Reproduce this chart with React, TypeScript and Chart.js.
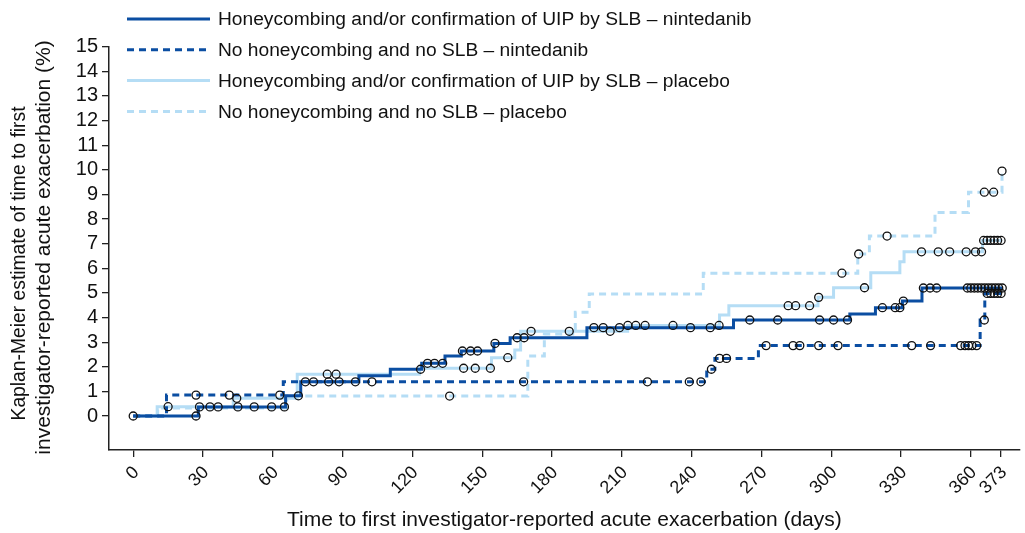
import React, { useEffect, useRef } from 'react';
import { Chart, registerables } from 'chart.js';

Chart.register(...registerables);

const DARK = '#0b4ea2';
const LIGHT = '#b5ddf5';
const FONT = '"Liberation Sans", Arial, Helvetica, sans-serif';

const xTickValues = [0, 30, 60, 90, 120, 150, 180, 210, 240, 270, 300, 330, 360, 373];
const yTickValues = [0, 1, 2, 3, 4, 5, 6, 7, 8, 9, 10, 11, 12, 13, 14, 15];

const xTitle = 'Time to first investigator-reported acute exacerbation (days)';
const yTitleLines = ['Kaplan-Meier estimate of time to first', 'investigator-reported acute exacerbation (%)'];

const seriesLabels = [
  'Honeycombing and/or confirmation of UIP by SLB – nintedanib',
  'No honeycombing and no SLB – nintedanib',
  'Honeycombing and/or confirmation of UIP by SLB – placebo',
  'No honeycombing and no SLB – placebo',
];

// Honeycombing and/or UIP by SLB – nintedanib
const hcNinTimes = [0, 28, 65.5, 72, 97, 110.5, 124, 134, 141, 155, 162, 195, 258, 308, 319, 330.6, 339, 373.5];
const hcNinValues = [0, 0.37, 0.82, 1.39, 1.64, 1.9, 2.14, 2.44, 2.64, 2.95, 3.18, 3.59, 3.9, 4.14, 4.4, 4.67, 5.2, 5.2];
const hcNinCensored = [0, 27, 28.5, 33, 36.5, 45, 52, 59.5, 65, 71, 74, 77.5, 84, 88.5, 95.5, 123.5, 126.5, 129.5, 133, 141.5, 145, 148, 155.5, 165, 168, 198, 202, 209, 239.5, 248, 265, 277, 295, 301, 307, 322, 327.5, 329.5, 331, 339.6, 342.5, 345.3, 358.5, 360, 361.5, 363, 364.5, 366, 367.5, 369, 370.5, 372, 373.5];

// No honeycombing and no SLB – nintedanib
const noHcNinTimes = [0, 14.3, 64.5, 246.5, 250, 268.7, 364, 366, 373.5];
const noHcNinValues = [0, 0.85, 1.39, 1.9, 2.34, 2.86, 3.9, 4.98, 4.98];
const noHcNinCensored = [27, 41.3, 63, 102.6, 167.8, 221, 239, 244, 248.5, 252, 255, 272, 283.6, 286.5, 294.6, 302.9, 334.6, 342.7, 355.6, 357.5, 359, 360.5, 362.5, 365.8, 367, 368.5, 370, 371.5, 373];

// Honeycombing and/or UIP by SLB – placebo
const hcPlaTimes = [0, 10.3, 43, 70.5, 123, 154, 164, 166.5, 212.5, 252, 256, 294.3, 301, 317, 329.5, 331.3, 365, 373.5];
const hcPlaValues = [0, 0.38, 0.72, 1.7, 1.94, 2.37, 2.68, 3.44, 3.68, 4.1, 4.48, 4.82, 5.21, 5.82, 6.27, 6.67, 7.13, 7.13];
const hcPlaCensored = [15, 44.5, 83.4, 87.2, 142, 147, 153.5, 161, 171, 187.4, 205, 212.6, 216, 220, 232, 251.8, 281.5, 284.7, 290.7, 294.6, 314.3, 338.8, 346, 350.9, 358, 362, 364.6, 365.5, 367, 368.5, 370, 371.5, 373];

// No honeycombing and no SLB – placebo
const noHcPlaTimes = [0, 10.5, 66, 169.6, 176.7, 190, 196, 245, 311.4, 316.4, 344.6, 359, 373.4];
const noHcPlaValues = [0, 0.33, 0.81, 2.44, 3.33, 4.21, 4.96, 5.8, 6.58, 7.31, 8.27, 9.09, 9.95];
const noHcPlaCensored = [136, 304.6, 311.8, 324, 365.8, 369.8, 373.4];

const seriesColors = [DARK, DARK, LIGHT, LIGHT];
const seriesDashes: number[][] = [[], [7, 5], [], [7, 5]];

function toPoints(times: number[], values: number[]) {
  return times.map((t, i) => ({ x: t, y: values[i] }));
}

function valueAt(times: number[], values: number[], t: number) {
  let v = values[0];
  for (let i = 0; i < times.length; i++) {
    if (times[i] <= t) v = values[i];
  }
  return v;
}

function censorPoints(times: number[], values: number[], cens: number[]) {
  return cens.map((t) => ({ x: t, y: valueAt(times, values, t) }));
}

const legendPlugin = {
  id: 'kmLegend',
  afterDraw(chart: any) {
    const ctx = chart.ctx;
    ctx.save();
    seriesLabels.forEach((label, i) => {
      const y = 19 + i * 30.8;
      ctx.strokeStyle = seriesColors[i];
      ctx.lineWidth = 3;
      ctx.setLineDash(seriesDashes[i]);
      ctx.beginPath();
      ctx.moveTo(127, y);
      ctx.lineTo(210, y);
      ctx.stroke();
      ctx.setLineDash([]);
      ctx.fillStyle = '#111';
      ctx.font = `19.2px ${FONT}`;
      ctx.textBaseline = 'middle';
      ctx.textAlign = 'left';
      ctx.fillText(label, 218, y + 1);
    });
    ctx.restore();
  },
};

const yTitlePlugin = {
  id: 'yTitle',
  afterDraw(chart: any) {
    const ctx = chart.ctx;
    const spec = [
      { x: 20, y: 263.5, size: 19.3 },
      { x: 44, y: 247.5, size: 21 },
    ];
    yTitleLines.forEach((line, i) => {
      ctx.save();
      ctx.translate(spec[i].x, spec[i].y);
      ctx.rotate(-Math.PI / 2);
      ctx.fillStyle = '#111';
      ctx.font = `${spec[i].size}px ${FONT}`;
      ctx.textAlign = 'center';
      ctx.textBaseline = 'middle';
      ctx.fillText(line, 0, 0);
      ctx.restore();
    });
  },
};

export default function App() {
  const canvasRef = useRef<HTMLCanvasElement | null>(null);

  useEffect(() => {
    if (!canvasRef.current) return;
    const censorStyle = {
      type: 'scatter' as const,
      showLine: false,
      pointStyle: 'circle',
      pointRadius: 4,
      pointBorderWidth: 1.3,
      pointBorderColor: '#111',
      pointBackgroundColor: 'rgba(255,255,255,0)',
      order: 0,
    };
    const lineStyle = (i: number) => ({
      type: 'line' as const,
      stepped: 'before' as const,
      borderColor: seriesColors[i],
      borderWidth: 3,
      borderDash: seriesDashes[i],
      pointRadius: 0,
      fill: false,
      order: i + 1,
      label: seriesLabels[i],
    });

    const chart = new Chart(canvasRef.current, {
      type: 'line',
      data: {
        datasets: [
          { ...censorStyle, data: censorPoints(hcNinTimes, hcNinValues, hcNinCensored) },
          { ...censorStyle, data: censorPoints(noHcNinTimes, noHcNinValues, noHcNinCensored) },
          { ...censorStyle, data: censorPoints(hcPlaTimes, hcPlaValues, hcPlaCensored) },
          { ...censorStyle, data: censorPoints(noHcPlaTimes, noHcPlaValues, noHcPlaCensored) },
          { ...lineStyle(0), data: toPoints(hcNinTimes, hcNinValues) },
          { ...lineStyle(1), data: toPoints(noHcNinTimes, noHcNinValues) },
          { ...lineStyle(2), data: toPoints(hcPlaTimes, hcPlaValues) },
          { ...lineStyle(3), data: toPoints(noHcPlaTimes, noHcPlaValues) },
        ] as any,
      },
      options: {
        animation: false,
        responsive: true,
        maintainAspectRatio: false,
        layout: { padding: { top: 46.7, right: 1, left: 0, bottom: 0 } },
        plugins: { legend: { display: false }, tooltip: { enabled: false } },
        scales: {
          x: {
            type: 'linear',
            min: -10.4,
            max: 381,
            afterBuildTicks: (scale: any) => {
              scale.ticks = xTickValues.map((v) => ({ value: v }));
            },
            afterFit: (scale: any) => {
              scale.height = 83;
            },
            ticks: {
              autoSkip: false,
              minRotation: 45,
              maxRotation: 45,
              padding: 5,
              labelOffset: 3,
              color: '#111',
              font: { family: FONT, size: 18 },
              callback: (v: any) => String(v),
            },
            grid: {
              drawOnChartArea: false,
              drawTicks: true,
              tickLength: 7,
              color: '#222',
              lineWidth: 1.3,
            },
            border: { display: true, color: '#222', width: 1.5 },
            title: {
              display: true,
              text: xTitle,
              color: '#111',
              font: { family: FONT, size: 21 },
              padding: { top: 0, bottom: 0 },
            },
          },
          y: {
            type: 'linear',
            min: -1.38,
            max: 15,
            afterBuildTicks: (scale: any) => {
              scale.ticks = yTickValues.map((v) => ({ value: v }));
            },
            afterFit: (scale: any) => {
              scale.width = 109;
            },
            ticks: {
              autoSkip: false,
              padding: 4,
              color: '#111',
              font: { family: FONT, size: 20 },
              callback: (v: any) => String(v),
            },
            grid: {
              drawOnChartArea: false,
              drawTicks: true,
              tickLength: 7,
              color: '#222',
              lineWidth: 1.3,
            },
            border: { display: true, color: '#222', width: 1.5 },
            title: { display: false },
          },
        },
      },
      plugins: [legendPlugin, yTitlePlugin],
    });
    return () => chart.destroy();
  }, []);

  return (
    <div style={{ position: 'fixed', left: 0, top: 0, width: 1025, height: 533, background: '#fff' }}>
      <canvas ref={canvasRef} />
    </div>
  );
}
